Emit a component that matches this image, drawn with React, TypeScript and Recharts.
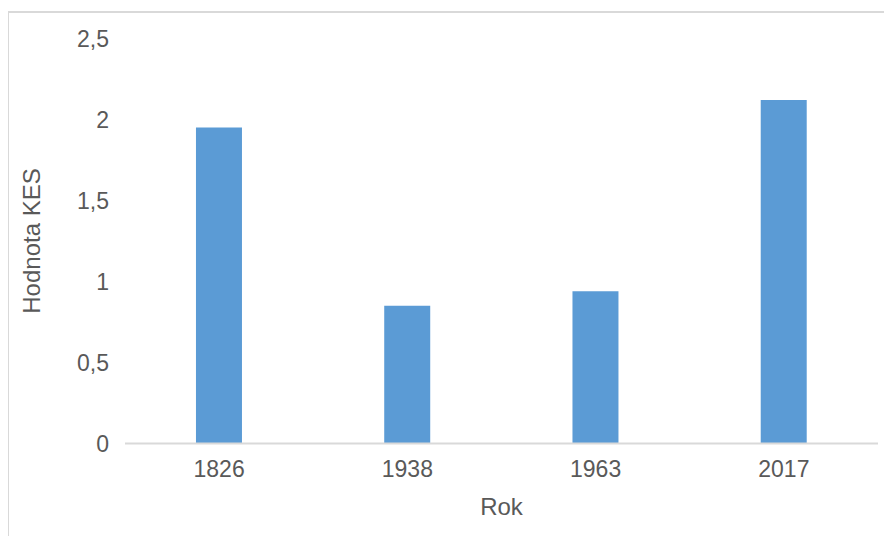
import React from 'react';
import { BarChart, Bar, XAxis, YAxis } from 'recharts';

const years = ['1826', '1938', '1963', '2017'];
const kesValues = [1.95, 0.85, 0.94, 2.12];
const yTicks = [0, 0.5, 1, 1.5, 2, 2.5];

const data = years.map((y, i) => ({ rok: y, kes: kesValues[i] }));

const fmt = (v: number) => String(v).replace('.', ',');
const FONT = 'Liberation Sans, Arial, sans-serif';
const TEXT = '#595959';

export default function App() {
  return (
    <div style={{ position: 'relative', width: 884, height: 528, overflow: 'hidden' }}>
      <div
        style={{
          position: 'absolute',
          left: -1,
          top: 3,
          width: 1000,
          height: 1000,
          borderLeft: '2px solid #d9d9d9',
          borderTop: '2px solid #d9d9d9',
          boxSizing: 'border-box',
        }}
      />
      <div style={{ position: 'absolute', left: 0, top: 0 }}>
        <BarChart
          width={884}
          height={528}
          data={data}
          margin={{ top: 30.5, right: 14, bottom: 32.5, left: 0 }}
          barCategoryGap="37.7%"
        >
          <XAxis
            dataKey="rok"
            axisLine={{ stroke: '#d9d9d9', strokeWidth: 2 }}
            tickLine={false}
            tickMargin={11.5}
            height={60}
            tick={{ fill: TEXT, fontSize: 23, fontFamily: FONT }}
            label={{ value: 'Rok', position: 'center', dy: 32.5, fill: TEXT, fontSize: 24, fontFamily: FONT }}
          />
          <YAxis
            domain={[0, 2.5]}
            ticks={yTicks}
            tickFormatter={fmt}
            axisLine={false}
            tickLine={false}
            tickMargin={10}
            width={117}
            interval={0}
            tick={{ fill: TEXT, fontSize: 23, fontFamily: FONT }}
            label={{ value: 'Hodnota KES', angle: -90, position: 'center', dx: -35.5, fill: TEXT, fontSize: 24, fontFamily: FONT }}
          />
          <Bar dataKey="kes" fill="#5b9bd5" isAnimationActive={false} />
        </BarChart>
      </div>
    </div>
  );
}
